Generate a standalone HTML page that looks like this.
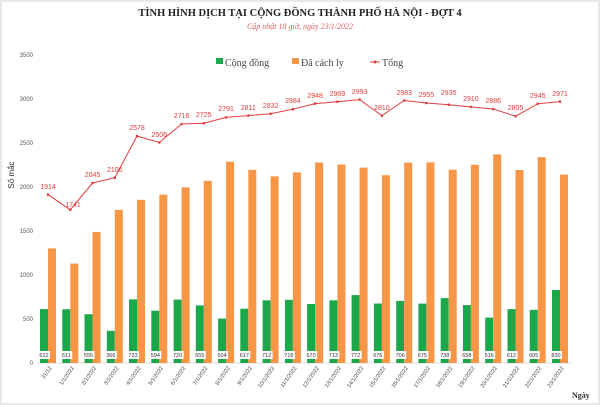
<!DOCTYPE html><html><head><meta charset="utf-8"><style>body{margin:0;background:#fff}svg{display:block}</style></head><body>
<svg width="600" height="405" xmlns="http://www.w3.org/2000/svg" font-family="Liberation Serif, serif">
<rect x="1" y="1" width="598" height="403" fill="#fff" stroke="#d0d0d0"/>
<text x="300" y="16" font-size="10.5" font-weight="bold" text-anchor="middle" fill="#222">TÌNH HÌNH DỊCH TẠI CỘNG ĐỒNG THÀNH PHỐ HÀ NỘI - ĐỢT 4</text>
<text x="300" y="29" font-size="8" font-style="italic" text-anchor="middle" fill="#e06060">Cập nhật 18 giờ, ngày  23/1/2022</text>
<rect x="216" y="58" width="7" height="6" fill="#1ca84a"/><text x="225" y="66" font-size="10" fill="#444">Cộng đồng</text>
<rect x="292" y="58" width="7" height="6" fill="#f79646"/><text x="301" y="66" font-size="10" fill="#444">Đã cách ly</text>
<line x1="370" y1="62" x2="380" y2="62" stroke="#e03c3c"/><circle cx="375" cy="62" r="1.5" fill="#e03c3c"/><text x="382" y="66" font-size="10" fill="#444">Tổng</text>
<g font-size="6" fill="#555" text-anchor="end" font-family="Liberation Sans, sans-serif">
<text x="33" y="365">0</text><text x="33" y="321">500</text><text x="33" y="277">1000</text><text x="33" y="233">1500</text><text x="33" y="189">2000</text><text x="33" y="145">2500</text><text x="33" y="101">3000</text><text x="33" y="57">3500</text></g>
<line x1="38" y1="363" x2="572" y2="363" stroke="#ddd"/>
<text transform="translate(14,175) rotate(-90)" font-size="8" text-anchor="middle" fill="#333" font-family="Liberation Sans, sans-serif">Số mắc</text>
<text x="572" y="398" font-size="8" font-weight="bold" fill="#333">Ngày</text>
<g fill="#1ca84a">
<rect x="40" y="309.1" width="8" height="53.9"/><rect x="62.3" y="309.2" width="8" height="53.8"/><rect x="84.5" y="314.2" width="8" height="48.8"/><rect x="106.8" y="330.8" width="8" height="32.2"/><rect x="129" y="299.4" width="8" height="63.6"/><rect x="151.3" y="310.7" width="8" height="52.3"/><rect x="173.6" y="299.6" width="8" height="63.4"/><rect x="195.8" y="305.4" width="8" height="57.6"/><rect x="218.1" y="318.6" width="8" height="44.4"/><rect x="240.3" y="308.7" width="8" height="54.3"/><rect x="262.6" y="300.3" width="8" height="62.7"/><rect x="284.9" y="299.8" width="8" height="63.2"/><rect x="307.1" y="304" width="8" height="59"/><rect x="329.4" y="300.3" width="8" height="62.7"/><rect x="351.6" y="295.1" width="8" height="67.9"/><rect x="373.9" y="303.5" width="8" height="59.5"/><rect x="396.2" y="300.9" width="8" height="62.1"/><rect x="418.4" y="303.6" width="8" height="59.4"/><rect x="440.7" y="298.1" width="8" height="64.9"/><rect x="462.9" y="305.1" width="8" height="57.9"/><rect x="485.2" y="317.6" width="8" height="45.4"/><rect x="507.5" y="309.1" width="8" height="53.9"/><rect x="529.7" y="309.8" width="8" height="53.2"/><rect x="552" y="290" width="8" height="73"/></g>
<g fill="#f79646">
<rect x="48" y="248.4" width="8" height="114.6"/><rect x="70.3" y="263.6" width="8" height="99.4"/><rect x="92.5" y="231.9" width="8" height="131.1"/><rect x="114.8" y="209.9" width="8" height="153.1"/><rect x="137" y="199.8" width="8" height="163.2"/><rect x="159.3" y="194.7" width="8" height="168.3"/><rect x="181.6" y="187.4" width="8" height="175.6"/><rect x="203.8" y="180.8" width="8" height="182.2"/><rect x="226.1" y="161.7" width="8" height="201.3"/><rect x="248.3" y="169.9" width="8" height="193.1"/><rect x="270.6" y="176.4" width="8" height="186.6"/><rect x="292.9" y="172.4" width="8" height="190.6"/><rect x="315.1" y="162.5" width="8" height="200.5"/><rect x="337.4" y="164.5" width="8" height="198.5"/><rect x="359.6" y="167.6" width="8" height="195.4"/><rect x="381.9" y="175.2" width="8" height="187.8"/><rect x="404.2" y="162.6" width="8" height="200.4"/><rect x="426.4" y="162.4" width="8" height="200.6"/><rect x="448.7" y="169.7" width="8" height="193.3"/><rect x="470.9" y="164.8" width="8" height="198.2"/><rect x="493.2" y="154.4" width="8" height="208.6"/><rect x="515.5" y="170" width="8" height="193"/><rect x="537.7" y="157.1" width="8" height="205.9"/><rect x="560" y="174.6" width="8" height="188.4"/></g>
<g font-size="5.5" text-anchor="middle" fill="#333" font-family="Liberation Sans, sans-serif">
<g fill="#fff"><rect x="38" y="351" width="12" height="8"/><rect x="60.3" y="351" width="12" height="8"/><rect x="82.5" y="351" width="12" height="8"/><rect x="104.8" y="351" width="12" height="8"/><rect x="127" y="351" width="12" height="8"/><rect x="149.3" y="351" width="12" height="8"/><rect x="171.6" y="351" width="12" height="8"/><rect x="193.8" y="351" width="12" height="8"/><rect x="216.1" y="351" width="12" height="8"/><rect x="238.3" y="351" width="12" height="8"/><rect x="260.6" y="351" width="12" height="8"/><rect x="282.9" y="351" width="12" height="8"/><rect x="305.1" y="351" width="12" height="8"/><rect x="327.4" y="351" width="12" height="8"/><rect x="349.6" y="351" width="12" height="8"/><rect x="371.9" y="351" width="12" height="8"/><rect x="394.2" y="351" width="12" height="8"/><rect x="416.4" y="351" width="12" height="8"/><rect x="438.7" y="351" width="12" height="8"/><rect x="460.9" y="351" width="12" height="8"/><rect x="483.2" y="351" width="12" height="8"/><rect x="505.5" y="351" width="12" height="8"/><rect x="527.7" y="351" width="12" height="8"/><rect x="550" y="351" width="12" height="8"/></g>
<text x="44" y="357">612</text><text x="66.3" y="357">611</text><text x="88.5" y="357">555</text><text x="110.8" y="357">366</text><text x="133" y="357">723</text><text x="155.3" y="357">594</text><text x="177.6" y="357">720</text><text x="199.8" y="357">655</text><text x="222.1" y="357">504</text><text x="244.3" y="357">617</text><text x="266.6" y="357">712</text><text x="288.9" y="357">718</text><text x="311.1" y="357">670</text><text x="333.4" y="357">713</text><text x="355.6" y="357">772</text><text x="377.9" y="357">676</text><text x="400.2" y="357">706</text><text x="422.4" y="357">675</text><text x="444.7" y="357">738</text><text x="466.9" y="357">658</text><text x="489.2" y="357">516</text><text x="511.5" y="357">612</text><text x="533.7" y="357">605</text><text x="556" y="357">830</text></g>
<polyline fill="none" stroke="#e03c3c" stroke-width="1" points="48,194.6 70.3,209.8 92.5,183 114.8,177.7 137,136.1 159.3,142.5 181.6,124 203.8,123.2 226.1,117.4 248.3,115.6 270.6,113.8 292.9,109.2 315.1,103.6 337.4,101.7 359.6,99.6 381.9,115.7 404.2,100.5 426.4,103 448.7,104.7 470.9,106.9 493.2,109 515.5,116.2 537.7,103.8 560,101.6"/>
<g fill="#e03c3c"><circle cx="48" cy="194.6" r="1.3"/><circle cx="70.3" cy="209.8" r="1.3"/><circle cx="92.5" cy="183" r="1.3"/><circle cx="114.8" cy="177.7" r="1.3"/><circle cx="137" cy="136.1" r="1.3"/><circle cx="159.3" cy="142.5" r="1.3"/><circle cx="181.6" cy="124" r="1.3"/><circle cx="203.8" cy="123.2" r="1.3"/><circle cx="226.1" cy="117.4" r="1.3"/><circle cx="248.3" cy="115.6" r="1.3"/><circle cx="270.6" cy="113.8" r="1.3"/><circle cx="292.9" cy="109.2" r="1.3"/><circle cx="315.1" cy="103.6" r="1.3"/><circle cx="337.4" cy="101.7" r="1.3"/><circle cx="359.6" cy="99.6" r="1.3"/><circle cx="381.9" cy="115.7" r="1.3"/><circle cx="404.2" cy="100.5" r="1.3"/><circle cx="426.4" cy="103" r="1.3"/><circle cx="448.7" cy="104.7" r="1.3"/><circle cx="470.9" cy="106.9" r="1.3"/><circle cx="493.2" cy="109" r="1.3"/><circle cx="515.5" cy="116.2" r="1.3"/><circle cx="537.7" cy="103.8" r="1.3"/><circle cx="560" cy="101.6" r="1.3"/></g>
<g font-size="7" fill="#e03c3c" text-anchor="middle" font-family="Liberation Sans, sans-serif">
<text x="48" y="189">1914</text><text x="73" y="207">1741</text><text x="92.5" y="177">2045</text><text x="114.8" y="172">2106</text><text x="137" y="130">2578</text><text x="159.3" y="137">2506</text><text x="181.6" y="118">2716</text><text x="203.8" y="117">2725</text><text x="226.1" y="111">2791</text><text x="248.3" y="110">2811</text><text x="270.6" y="108">2832</text><text x="292.9" y="103">2884</text><text x="315.1" y="98">2948</text><text x="337.4" y="96">2969</text><text x="359.6" y="94">2993</text><text x="381.9" y="110">2810</text><text x="404.2" y="95">2983</text><text x="426.4" y="97">2955</text><text x="448.7" y="95">2935</text><text x="470.9" y="101">2910</text><text x="493.2" y="103">2886</text><text x="515.5" y="110">2805</text><text x="537.7" y="98">2945</text><text x="560" y="96">2971</text></g>
<g font-size="5.5" fill="#444" text-anchor="end" font-family="Liberation Sans, sans-serif">
<text transform="translate(52,368) rotate(-55)">31/12</text><text transform="translate(74.3,368) rotate(-55)">1/1/2022</text><text transform="translate(96.5,368) rotate(-55)">2/1/2022</text><text transform="translate(118.8,368) rotate(-55)">3/1/2022</text><text transform="translate(141,368) rotate(-55)">4/1/2022</text><text transform="translate(163.3,368) rotate(-55)">5/1/2022</text><text transform="translate(185.6,368) rotate(-55)">6/1/2022</text><text transform="translate(207.8,368) rotate(-55)">7/1/2022</text><text transform="translate(230.1,368) rotate(-55)">8/1/2022</text><text transform="translate(252.3,368) rotate(-55)">9/1/2022</text><text transform="translate(274.6,368) rotate(-55)">10/1/2022</text><text transform="translate(296.9,368) rotate(-55)">11/1/2022</text><text transform="translate(319.1,368) rotate(-55)">12/1/2022</text><text transform="translate(341.4,368) rotate(-55)">13/1/2022</text><text transform="translate(363.6,368) rotate(-55)">14/1/2022</text><text transform="translate(385.9,368) rotate(-55)">15/1/2022</text><text transform="translate(408.2,368) rotate(-55)">16/1/2022</text><text transform="translate(430.4,368) rotate(-55)">17/1/2022</text><text transform="translate(452.7,368) rotate(-55)">18/1/2022</text><text transform="translate(474.9,368) rotate(-55)">19/1/2022</text><text transform="translate(497.2,368) rotate(-55)">20/1/2022</text><text transform="translate(519.5,368) rotate(-55)">21/1/2022</text><text transform="translate(541.7,368) rotate(-55)">22/1/2022</text><text transform="translate(564,368) rotate(-55)">23/1/2022</text></g>
</svg></body></html>
